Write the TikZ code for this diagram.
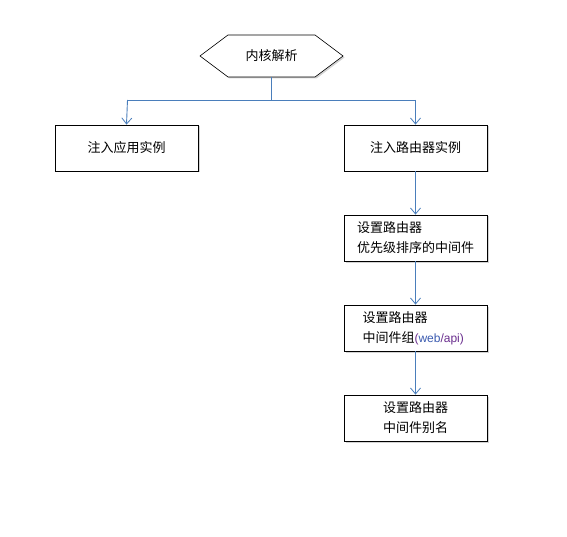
\documentclass[tikz,border=0pt]{standalone}
\usepackage{fontspec}
\newfontfamily\cjk{Noto Sans CJK SC}
\usetikzlibrary{arrows.meta,shadows}
\definecolor{linkblue}{HTML}{4A7EBB}
\definecolor{webblue}{HTML}{3B5BB0}
\definecolor{webpurple}{HTML}{6A2E8E}
\begin{document}
\begin{tikzpicture}[x=1pt,y=-1pt,
  font=\cjk\fontsize{13}{20}\selectfont,
  boxstyle/.style={draw=black,thick,fill=white,minimum width=143pt,minimum height=46pt,inner sep=0pt,
     drop shadow={shadow xshift=1.5pt,shadow yshift=-1.5pt,opacity=0.35}},
  hexstyle/.style={minimum width=143pt,minimum height=42pt,inner sep=0pt},
  hexline/.style={draw=black,fill=white,line width=0.6pt,
     drop shadow={shadow xshift=1.5pt,shadow yshift=-1.5pt,opacity=0.35}},
  conn/.style={draw=linkblue,line width=0.9pt,-{Straight Barb[length=6pt,width=10pt,line width=0.8pt]}},
  plain/.style={draw=linkblue,line width=0.9pt}]
\useasboundingbox (0,0) rectangle (567,537);
\path[hexline] (200,56) -- (228,35) -- (315,35) -- (343,56) -- (315,77) -- (228,77) -- cycle;
\node[hexstyle] (k) at (271.5,56) {内核解析};
\node[boxstyle] (a) at (126.5,148) {注入应用实例};
\node[boxstyle] (b) at (415.5,148) {注入路由器实例};
\node[boxstyle] (c) at (415.5,238) {\parbox{117pt}{\raggedright 设置路由器\\优先级排序的中间件}};
\node[boxstyle] (d) at (415.5,328) {\parbox{106pt}{\raggedright 设置路由器\\中间件组{\fontspec{Liberation Sans}\fontsize{12}{20}\selectfont\color{webpurple}(\textcolor{webblue}{web}/api)}}};
\node[boxstyle] (e) at (415.5,418) {\parbox{143pt}{\centering 设置路由器\\中间件别名}};
\coordinate (m) at (271.5,100);
\coordinate (ml) at (127.5,100);
\coordinate (mr) at (415.5,100);
\draw[plain] (k.south) -- (m);
\draw[plain] (ml) -- (mr);
\draw[conn] (ml) -- (a.north);
\draw[conn] (mr) -- (b.north);
\draw[conn] (b.south) -- (c.north);
\draw[conn] (c.south) -- (d.north);
\draw[conn] (d.south) -- (e.north);
\end{tikzpicture}
\end{document}
